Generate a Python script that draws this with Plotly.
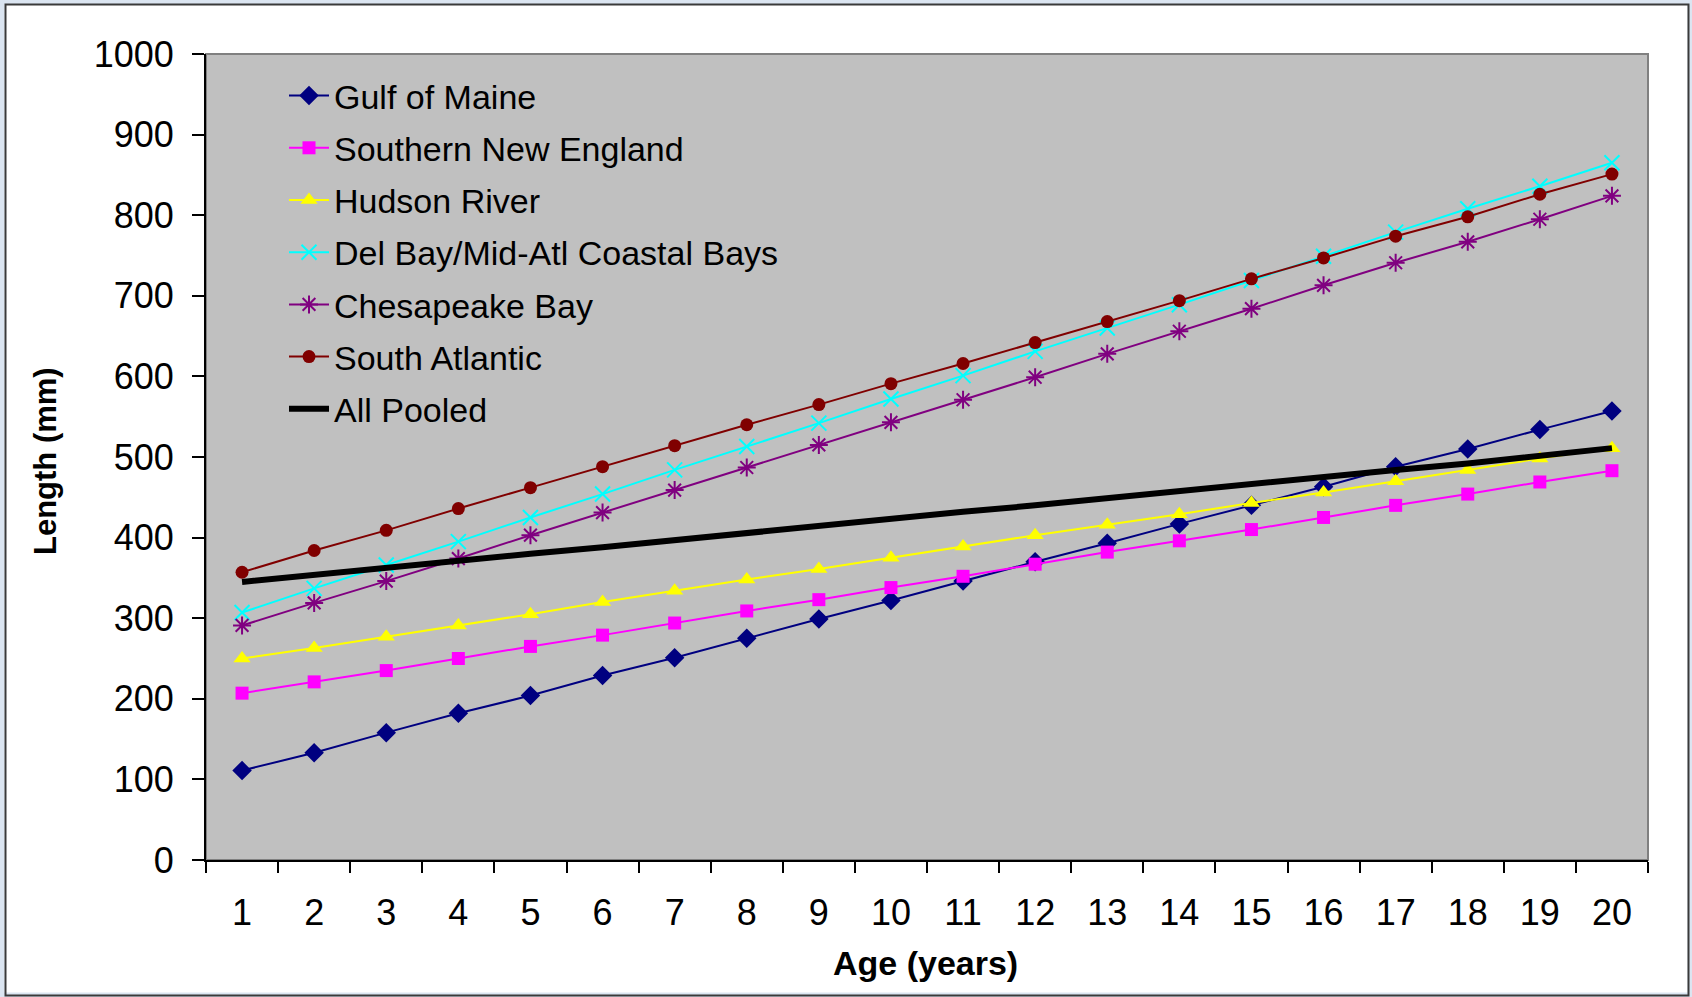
import plotly.graph_objects as go

ages = [str(a) for a in range(1, 21)]

gulf_of_maine = [111, 133, 158, 182, 204, 229, 251, 275, 299, 322, 346, 370, 393, 417, 440, 463, 488, 510, 534, 557]
southern_new_england = [207, 221, 235, 250, 265, 279, 294, 309, 323, 338, 352, 367, 382, 396, 410, 425, 440, 454, 469, 483]
hudson_river = [250, 263, 277, 291, 305, 320, 334, 348, 361, 375, 389, 403, 416, 429, 443, 456, 470, 484, 498, 511]
del_bay = [307, 337, 366, 395, 425, 454, 484, 513, 542, 572, 601, 631, 660, 689, 719, 749, 779, 808, 836, 865]
chesapeake_bay = [291, 319, 346, 374, 403, 431, 459, 487, 515, 543, 571, 599, 628, 656, 684, 713, 741, 767, 795, 824]
south_atlantic = [357, 384, 409, 436, 462, 488, 514, 540, 565, 591, 616, 642, 668, 694, 721, 747, 774, 798, 826, 851]
all_pooled = [345, 354, 362, 371, 380, 388, 397, 406, 414, 423, 432, 440, 449, 458, 466, 475, 484, 492, 501, 511]

series = [
    ("Gulf of Maine", gulf_of_maine, "#000080", "diamond", 15, 2),
    ("Southern New England", southern_new_england, "#FF00FF", "square", 13, 2),
    ("Hudson River", hudson_river, "#FFFF00", "triangle-up", 15, 2),
    ("Del Bay/Mid-Atl Coastal Bays", del_bay, "#00FFFF", "x-thin-open", 15, 2),
    ("Chesapeake Bay", chesapeake_bay, "#800080", "asterisk-open", 15, 2),
    ("South Atlantic", south_atlantic, "#800000", "circle", 13, 2),
]

FONT = "Liberation Sans, Arial, sans-serif"

fig = go.Figure()
for i, (name, vals, color, sym, size, lw) in enumerate(series):
    fig.add_trace(go.Scatter(
        x=ages, y=vals, name=name, mode="lines+markers",
        line=dict(color=color, width=lw),
        marker=dict(symbol=sym, size=size, color=color,
                    line=dict(color=color, width=2 if "open" in sym else 0)),
        legendgroup=f"g{i}",
    ))
fig.add_trace(go.Scatter(
    x=ages, y=all_pooled, name="All Pooled", mode="lines",
    line=dict(color="#000000", width=6), legendgroup="g6",
))

# plot-area pixel geometry: x 206..1648, y 54..860
PL, PR, PT, PB = 206, 1648, 54, 860
W, H = PR - PL, PB - PT
def px(x):
    return (x - PL) / W
def py(y):
    return 1 - (y - PT) / H

shapes = [
    # light blue outer strip
    dict(type="rect", xref="paper", yref="paper", x0=px(2), x1=px(1690), y0=py(995), y1=py(2),
         line=dict(color="#dbe5f1", width=5), fillcolor="rgba(0,0,0,0)", layer="above"),
    # chart border
    dict(type="rect", xref="paper", yref="paper", x0=px(5.5), x1=px(1688.5), y0=py(995.5), y1=py(4.5),
         line=dict(color="#3a3a3a", width=2), fillcolor="rgba(0,0,0,0)", layer="above"),
    # plot area border (top/right gray)
    dict(type="rect", xref="paper", yref="paper", x0=0, x1=1, y0=0, y1=1,
         line=dict(color="#808080", width=2), fillcolor="rgba(0,0,0,0)", layer="below"),
]

fig.update_layout(
    width=1692, height=997,
    margin=dict(l=PL, r=1692 - PR, t=PT, b=997 - PB, autoexpand=False),
    paper_bgcolor="#FFFFFF",
    plot_bgcolor="#C0C0C0",
    font=dict(family=FONT, size=34, color="#000000"),
    showlegend=True,
    legend=dict(
        x=px(284), y=py(67), xanchor="left", yanchor="top",
        bgcolor="rgba(0,0,0,0)", borderwidth=0,
        font=dict(family=FONT, size=34, color="#000000"),
        tracegroupgap=5, traceorder="grouped", itemwidth=40,
    ),
    xaxis=dict(
        type="category", tickson="boundaries", ticks="outside", ticklen=11,
        tickwidth=2, tickcolor="#000000", showline=True, linecolor="#000000",
        linewidth=2, showgrid=False, zeroline=False,
        tickfont=dict(family=FONT, size=36), ticklabelstandoff=20,
        range=[-0.5, 19.5],
    ),
    yaxis=dict(
        range=[0, 1000], tickvals=list(range(0, 1001, 100)),
        ticks="outside", ticklen=12, tickwidth=2, tickcolor="#000000",
        showline=True, linecolor="#000000", linewidth=2, showgrid=False,
        zeroline=False, tickfont=dict(family=FONT, size=36), ticklabelstandoff=11,
    ),
    shapes=shapes,
    annotations=[
        dict(text="<b>Age (years)</b>", xref="paper", yref="paper", x=px(925), y=py(963),
             xanchor="center", yanchor="middle", showarrow=False,
             font=dict(family=FONT, size=34)),
        dict(text="<b>Length (mm)</b>", xref="paper", yref="paper", x=px(45), y=py(461),
             xanchor="center", yanchor="middle", showarrow=False, textangle=-90,
             font=dict(family=FONT, size=31)),
    ],
)

fig.write_html("out.html", config={"displayModeBar": False},
               post_script="document.body.style.margin='0';document.body.style.overflow='hidden';")
